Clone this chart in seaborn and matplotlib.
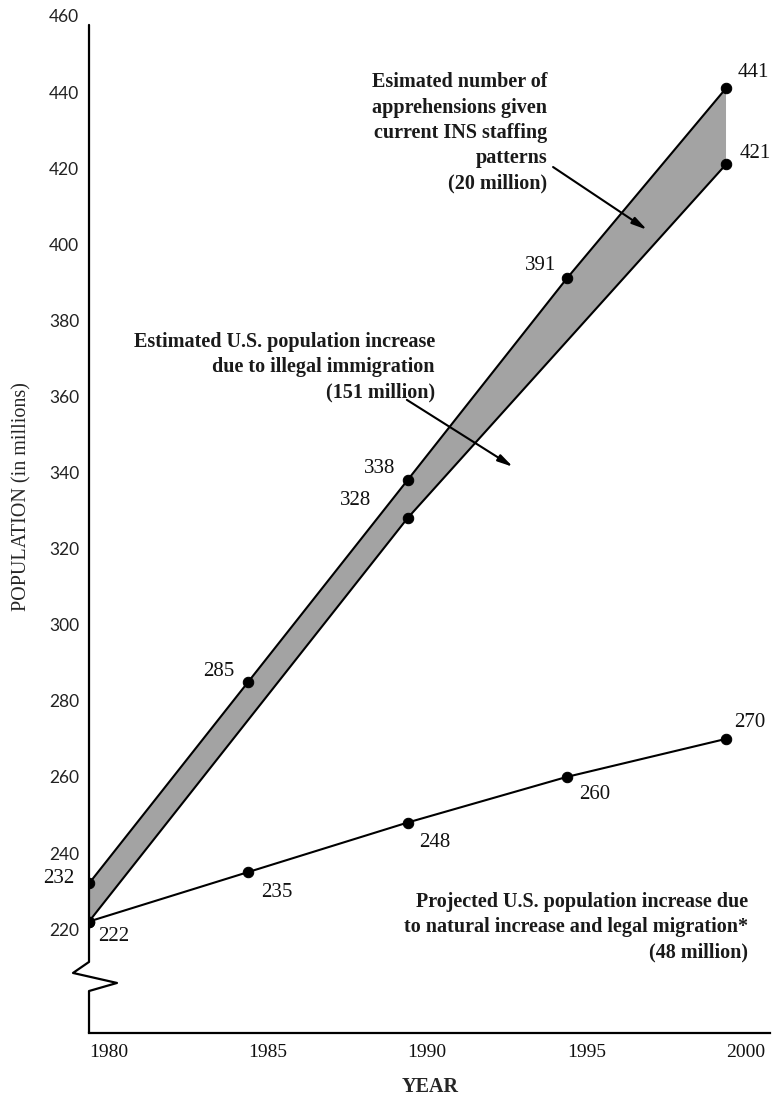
import numpy as np
import pandas as pd
import matplotlib
matplotlib.use('Agg')
import matplotlib.pyplot as plt
import seaborn as sns

# upper edge of band: illegal immigration + apprehensions
years_upper = [1980, 1985, 1990, 1995, 2000]
pop_upper = [232, 285, 338, 391, 441]

# lower edge of band
years_mid = [1980, 1990, 2000]
pop_mid = [222, 328, 421]

# natural increase and legal migration
years_low = [1980, 1985, 1990, 1995, 2000]
pop_low = [222, 235, 248, 260, 270]

x_ticks = [1980, 1985, 1990, 1995, 2000]
y_ticks = [220, 240, 260, 280, 300, 320, 340, 360, 380, 400, 420, 440, 460]

sns.set_style('white')
plt.rcParams['font.family'] = ['Liberation Serif', 'DejaVu Serif']

fig = plt.figure(figsize=(7.74, 10.96), dpi=100)
ax = fig.add_axes([0.115, 0.0575, 0.8798, 0.9314])

# shaded band between the two upper curves
band_x = years_upper + years_mid[::-1]
band_y = pop_upper + pop_mid[::-1]
ax.fill(band_x, band_y, color='#a3a3a3', lw=0, zorder=1)

line_kw = dict(color='black', marker='o', markersize=7.5, linewidth=1.5,
               markeredgecolor='black', zorder=3)
sns.lineplot(x=years_upper, y=pop_upper, ax=ax, **line_kw)
sns.lineplot(x=years_mid, y=pop_mid, ax=ax, **line_kw)
sns.lineplot(x=years_low, y=pop_low, ax=ax, **line_kw)

# point labels
lab_font = dict(fontsize=15, ha='center', va='center', color='#111111')
upper_off = [(-21.6, 3.6), (-20.9, 7.2), (-20.2, 8.6), (-18.7, 9.4), (19.4, 11.5)]
mid_off = [None, (-37.4, 13), (20.9, 7.9)]
low_off = [(18, -10.8), (20.9, -14.4), (19.4, -14.4), (20.2, -13), (17.3, 11.5)]
for xs, ys, offs in [(years_upper, pop_upper, upper_off),
                     (years_mid, pop_mid, mid_off),
                     (years_low, pop_low, low_off)]:
    for xv, yv, off in zip(xs, ys, offs):
        if off is None:
            continue
        ax.annotate(str(yv), (xv, yv), xytext=off, textcoords='offset points', **lab_font)

ax.set_xlim(1980, 2001.38)
ax.set_ylim(192.7, 461)
ax.set_xticks(x_ticks)
ax.set_yticks(y_ticks)
ax.set_xticklabels([str(t) for t in x_ticks], fontsize=14, ha='left', color='#111111')
ax.set_yticklabels([str(t) for t in y_ticks], fontsize=12.5, family='Lato', color='#222222')
ax.tick_params(axis='both', length=0)
ax.tick_params(axis='x', pad=8)
ax.tick_params(axis='y', pad=7)

for s in ['top', 'right', 'left']:
    ax.spines[s].set_visible(False)
ax.spines['bottom'].set_color('black')
ax.spines['bottom'].set_linewidth(1.6)

# left axis with a break zigzag
ax.plot([0, 0, 0.0411, -0.0235, 0, 0], [0, 0.0411, 0.049, 0.0588, 0.0696, 0.9875],
        transform=ax.transAxes, color='black', lw=1.6, clip_on=False, zorder=4)

ax.set_xlabel('')
ax.set_ylabel('')
fig.text(430 / 774, 1 - 1087 / 1096, 'YEAR', ha='center', va='center',
         fontsize=14.5, fontweight='bold')
fig.text(22 / 774, 1 - 497 / 1096, 'POPULATION (in millions)', ha='center', va='center',
         rotation=90, fontsize=14.5)

note_kw = dict(fontsize=14.5, fontweight='bold', ha='right', va='center',
               multialignment='right', linespacing=1.35, color='#1a1a1a')
arrow_kw = dict(arrowstyle='-|>,head_width=0.22,head_length=0.9', color='black', lw=1.5,
                shrinkA=0, shrinkB=0)

ax.text(1994.38, 429.3, 'Esimated number of\napprehensions given\ncurrent INS staffing\npatterns\n(20 million)',
        **note_kw)
ax.annotate('', xy=(1997.52, 403.8), xytext=(1994.57, 420.3), arrowprops=arrow_kw)

ax.text(1990.86, 367.7, 'Estimated U.S. population increase\ndue to illegal immigration\n(151 million)',
        **note_kw)
ax.annotate('', xy=(1993.31, 341.5), xytext=(1989.98, 359.1), arrowprops=arrow_kw)

ax.text(2000.69, 220.5, 'Projected U.S. population increase due\nto natural increase and legal migration*\n(48 million)',
        **note_kw)

fig.savefig('out.png', dpi=100)
